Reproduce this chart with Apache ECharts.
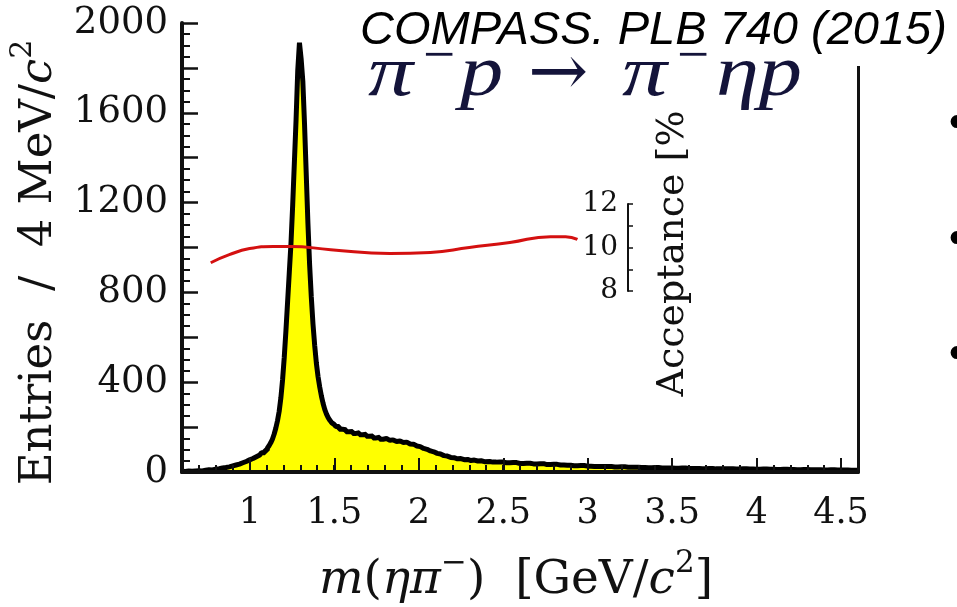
<!DOCTYPE html>
<html>
<head>
<meta charset="utf-8">
<script src="https://cdn.jsdelivr.net/npm/echarts@6/dist/echarts.min.js"></script>
<style>
  html, body { margin: 0; padding: 0; background: #ffffff; }
  #chart { width: 957px; height: 607px; }
</style>
</head>
<body>
<div id="chart"></div>
<script>
// eta pi- invariant mass spectrum (bin centres in GeV/c^2) and entries per bin
const massGeV = [
  0.60, 0.62, 0.64, 0.66, 0.68, 0.70, 0.72, 0.74, 0.76, 0.78, 0.80, 0.82, 0.84,
  0.86, 0.88, 0.90, 0.92, 0.94, 0.96, 0.98, 1.00, 1.02, 1.04, 1.06, 1.08, 1.10,
  1.11, 1.12, 1.13, 1.14, 1.15, 1.16, 1.17, 1.18, 1.19, 1.20, 1.21, 1.22, 1.23,
  1.24, 1.25, 1.26, 1.27, 1.28, 1.29, 1.30, 1.31, 1.32, 1.33, 1.34, 1.35, 1.36,
  1.37, 1.38, 1.39, 1.40, 1.41, 1.42, 1.43, 1.44, 1.45, 1.46, 1.47, 1.48, 1.49, 1.50,
  1.52, 1.54, 1.56, 1.58, 1.60, 1.62, 1.64, 1.66, 1.68, 1.70, 1.72, 1.74, 1.76,
  1.78, 1.80, 1.82, 1.84, 1.86, 1.88, 1.90, 1.92, 1.94, 1.96, 1.98, 2.00, 2.02,
  2.04, 2.06, 2.08, 2.10, 2.12, 2.14, 2.16, 2.18, 2.20, 2.22, 2.24, 2.26, 2.28,
  2.30, 2.32, 2.34, 2.36, 2.38, 2.40,
  2.44, 2.48, 2.52, 2.56, 2.60, 2.64, 2.68, 2.72, 2.76, 2.80, 2.84, 2.88, 2.92,
  2.96, 3.00, 3.04, 3.08, 3.12, 3.16, 3.20, 3.24, 3.28, 3.32, 3.36, 3.40, 3.44,
  3.48, 3.52, 3.56, 3.60, 3.64, 3.68, 3.72, 3.76, 3.80, 3.84, 3.88, 3.92, 3.96,
  4.00, 4.04, 4.08, 4.12, 4.16, 4.20, 4.24, 4.28, 4.32, 4.36, 4.40, 4.44, 4.48,
  4.52, 4.56, 4.60
];
const entries = [
  3, 2, 4, 3, 5, 6, 5, 8, 10, 9, 13, 15, 18,
  20, 23, 27, 31, 35, 41, 47, 54, 60, 68, 76, 86, 97,
  106, 117, 130, 146, 168, 195, 228, 270, 330, 410, 510, 630, 760,
  890, 1020, 1190, 1380, 1570, 1790, 1912, 1840, 1740, 1550, 1330, 1110, 925,
  780, 660, 565, 485, 425, 378, 338, 305, 278, 258, 242, 230, 220, 212,
  203, 190, 188, 179, 181, 172, 175, 166, 168, 159, 161, 152, 155,
  146, 149, 141, 143, 136, 138, 131, 133, 125, 124, 116, 113, 105,
  101, 94, 90, 83, 80, 73, 71, 65, 64, 59, 60, 55, 56,
  51, 53, 49, 50, 46, 47,
  44, 45, 41, 42, 38, 39, 36, 37, 33, 34, 31, 30, 28,
  29, 26, 25, 24, 25, 22, 23, 21, 21, 20, 19, 20, 18,
  18, 17, 18, 16, 16, 15, 16, 14, 15, 14, 13, 14, 13,
  12, 13, 12, 11, 12, 11, 10, 11, 10, 10, 9, 10, 9,
  9, 8, 8
];

// detector acceptance versus mass, in percent
const accMass = [0.77, 0.88, 1.00, 1.14, 1.24, 1.48, 1.83, 2.07, 2.30, 2.54, 2.78, 2.87, 2.94];
const accPercent = [9.30, 9.67, 9.95, 10.05, 10.05, 9.90, 9.72, 9.77, 10.00, 10.23, 10.50, 10.50, 10.37];

// tick label sets
const entryLabelStep = 400;
const accLabels = [8, 10, 12];

const histData = massGeV.map((m, i) => [m, entries[i]]);
const accData = accMass.map((m, i) => [m, accPercent[i]]);

const serif = 'DejaVu Serif';
const ink = '#111111';
const formulaInk = '#14143a';

const chart = echarts.init(document.getElementById('chart'), null, { renderer: 'canvas' });

// plain grids: the axis rectangles are placed exactly, labels may fall outside
const gridBase = { containLabel: false, outerBoundsMode: 'none' };

chart.setOption({
  animation: false,
  backgroundColor: '#ffffff',
  grid: [
    Object.assign({ left: 182, right: 99, top: 23, bottom: 135 }, gridBase),
    Object.assign({ left: 250, right: 116, top: 23, bottom: 135 }, gridBase),
    Object.assign({ left: 182, right: 99, top: 204, bottom: 316 }, gridBase)
  ],
  xAxis: [
    {
      type: 'value', gridIndex: 0, min: 0.6, max: 4.6, interval: 0.1, z: 5,
      axisLine: { lineStyle: { color: ink, width: 4 } },
      axisTick: { inside: true, length: 7, lineStyle: { color: ink, width: 2 } },
      axisLabel: { show: false },
      splitLine: { show: false },
      name: '{i|m}{r|(}{i|ηπ}{s|−}{r|)  [GeV/}{i|c}{s|2}{r|]}',
      nameLocation: 'middle', nameGap: 76, nameMoveOverlap: false,
      nameTextStyle: {
        padding: [0, 8, 0, 0],
        rich: {
          r: { fontFamily: serif, fontSize: 47, color: ink, lineHeight: 66 },
          i: { fontFamily: serif, fontStyle: 'italic', fontSize: 47, color: ink, lineHeight: 66 },
          s: { fontFamily: serif, fontSize: 31, color: ink, verticalAlign: 'top', lineHeight: 31 }
        }
      }
    },
    {
      type: 'value', gridIndex: 0, position: 'top', min: 0.6, max: 4.6,
      axisLine: { lineStyle: { color: ink, width: 3 } },
      axisTick: { show: false }, axisLabel: { show: false }, splitLine: { show: false }
    },
    {
      type: 'value', gridIndex: 1, min: 1, max: 4.5, interval: 0.5, z: 5,
      axisLine: { show: false },
      axisTick: { inside: true, length: 14, lineStyle: { color: ink, width: 2 } },
      axisLabel: { fontFamily: serif, fontSize: 35, color: ink, margin: 24 },
      splitLine: { show: false }
    },
    {
      type: 'value', gridIndex: 2, min: 0.6, max: 4.6, show: false
    }
  ],
  yAxis: [
    {
      type: 'value', gridIndex: 0, min: 0, max: 2000, interval: 200, z: 5,
      axisLine: { show: true, lineStyle: { color: ink, width: 4 } },
      axisTick: { show: true, inside: true, length: 16, lineStyle: { color: ink, width: 2.5 } },
      minorTick: { show: true, splitNumber: 4, length: 8, lineStyle: { color: ink, width: 2 } },
      axisLabel: {
        fontFamily: serif, fontSize: 37, color: ink, margin: 14,
        formatter: v => (v % entryLabelStep === 0 ? String(v) : '')
      },
      splitLine: { show: false },
      name: '{r|Entries  /  4 MeV/}{i|c}{s|2}',
      nameLocation: 'middle', nameRotate: 90, nameGap: 112, nameMoveOverlap: false,
      nameTextStyle: {
        padding: [0, 30, 0, 0],
        rich: {
          r: { fontFamily: serif, fontSize: 45, color: ink, lineHeight: 62 },
          i: { fontFamily: serif, fontStyle: 'italic', fontSize: 45, color: ink, lineHeight: 62 },
          s: { fontFamily: serif, fontSize: 30, color: ink, verticalAlign: 'top', lineHeight: 30 }
        }
      }
    },
    {
      type: 'value', gridIndex: 0, position: 'right', min: 0, max: 2000,
      axisLine: { show: true, lineStyle: { color: ink, width: 3 } },
      axisTick: { show: false }, axisLabel: { show: false }, splitLine: { show: false }
    },
    {
      type: 'value', gridIndex: 1, min: 0, max: 2000, show: false
    },
    {
      type: 'value', gridIndex: 2, position: 'right', offset: -230,
      min: 8, max: 12, interval: 1, z: 5,
      axisLine: { show: true, lineStyle: { color: ink, width: 2 } },
      axisTick: { show: true, inside: false, length: 5, lineStyle: { color: ink, width: 1.5 } },
      axisLabel: {
        inside: true, margin: 10, fontFamily: serif, fontSize: 28, color: ink,
        formatter: v => (accLabels.includes(v) ? String(v) : '')
      },
      splitLine: { show: false },
      name: 'Acceptance [%',
      nameLocation: 'middle', nameRotate: 90, nameGap: 26, nameMoveOverlap: false,
      nameTextStyle: { fontFamily: serif, fontSize: 38, color: ink, padding: [0, 12, 0, 0] }
    }
  ],
  series: [
    {
      name: 'Entries',
      type: 'line', xAxisIndex: 0, yAxisIndex: 0,
      data: histData, step: 'middle', symbol: 'none',
      lineStyle: { color: '#000000', width: 5 },
      areaStyle: { color: '#ffff00', opacity: 1 },
      z: 2
    },
    {
      name: 'Acceptance',
      type: 'line', xAxisIndex: 3, yAxisIndex: 3,
      data: accData, smooth: true, symbol: 'none',
      lineStyle: { color: '#d41010', width: 3 },
      z: 3
    }
  ],
  graphic: [
    { type: 'rect', z: 100, shape: { x: 335, y: 0, width: 622, height: 66 }, style: { fill: '#ffffff' } },
    {
      type: 'text', z: 101, x: 360, y: 31,
      style: { text: 'COMPASS. PLB 740 (2015)', font: 'italic 47px "Liberation Sans"', fill: '#000000', verticalAlign: 'middle' }
    },
    {
      type: 'text', z: 101, x: 368, y: 76, scaleX: 1.25,
      style: { text: 'π', font: 'italic 72px "Liberation Serif"', fill: formulaInk, verticalAlign: 'middle' }
    },
    {
      type: 'text', z: 102, x: 423, y: 58,
      style: { text: '−', font: '57px "Liberation Serif"', fill: formulaInk, verticalAlign: 'middle' }
    },
    {
      type: 'text', z: 101, x: 460, y: 76, scaleX: 1.2,
      style: { text: 'p', font: 'italic 72px "Liberation Serif"', fill: formulaInk, verticalAlign: 'middle' }
    },
    {
      type: 'text', z: 101, x: 528, y: 76,
      style: { text: '→', font: '72px "DejaVu Serif"', fill: formulaInk, verticalAlign: 'middle' }
    },
    {
      type: 'text', z: 101, x: 622, y: 76, scaleX: 1.25,
      style: { text: 'π', font: 'italic 72px "Liberation Serif"', fill: formulaInk, verticalAlign: 'middle' }
    },
    {
      type: 'text', z: 102, x: 677, y: 58,
      style: { text: '−', font: '57px "Liberation Serif"', fill: formulaInk, verticalAlign: 'middle' }
    },
    {
      type: 'text', z: 101, x: 716, y: 76, scaleX: 1.2,
      style: { text: 'ηp', font: 'italic 72px "Liberation Serif"', fill: formulaInk, verticalAlign: 'middle' }
    },
    {
      type: 'text', z: 101, x: 957, y: 127,
      style: { text: '•', font: '44px "DejaVu Sans"', fill: '#000000', align: 'center', verticalAlign: 'middle' }
    },
    {
      type: 'text', z: 101, x: 957, y: 243,
      style: { text: '•', font: '44px "DejaVu Sans"', fill: '#000000', align: 'center', verticalAlign: 'middle' }
    },
    {
      type: 'text', z: 101, x: 957, y: 358,
      style: { text: '•', font: '44px "DejaVu Sans"', fill: '#000000', align: 'center', verticalAlign: 'middle' }
    }
  ]
});
</script>
</body>
</html>
